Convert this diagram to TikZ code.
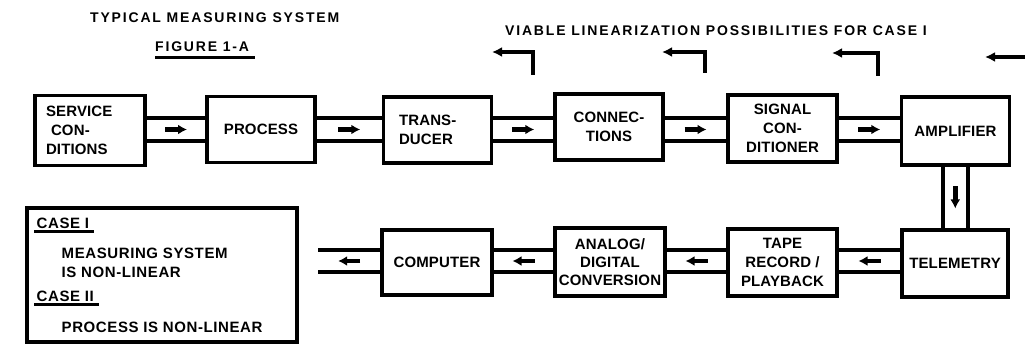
\documentclass[tikz,border=0pt]{standalone}
\usepackage{fontspec}
\setmainfont{Liberation Sans}
\newfontfamily\boxfont[LetterSpace=1]{Liberation Sans}
\newfontfamily\titfont[LetterSpace=13]{Liberation Sans}
\newfontfamily\legfont[LetterSpace=4]{Liberation Sans}
\usetikzlibrary{arrows.meta,calc}
\tikzset{
  blk/.style={draw, line width=3.3pt, inner sep=2pt, align=center,
    font=\boxfont\bfseries\fontsize{15}{19}\selectfont},
  chan/.style={line width=3.3pt},
  charrow/.style={line width=4.5pt, -{Latex[length=9pt,width=10pt]}},
  brk/.style={line width=3.4pt, -{Latex[length=10pt,width=10pt]}},
  ttl/.style={anchor=base west, inner sep=0pt, font=\titfont\bfseries\fontsize{14}{16}\selectfont},
  leg/.style={anchor=base west, inner sep=1.5pt, font=\legfont\bfseries\fontsize{15}{17}\selectfont},
  uline/.style={line width=2.8pt},
  legbox/.style={draw, line width=3.3pt, inner sep=0pt}
}
\newcommand\hchan[6]{%
  \draw[chan] (#1.east |- #3) -- (#2.west |- #3) (#1.east |- #4) -- (#2.west |- #4);
  \draw[charrow] ($(#1.east |- #5)!0.5!(#2.west |- #5) - (#6,0)$) -- ($(#1.east |- #5)!0.5!(#2.west |- #5) + (#6,0)$);}
\begin{document}
\begin{tikzpicture}[x=1pt,y=-1pt]
\useasboundingbox (0,0) rectangle (1025,344);
% row reference coordinates
\coordinate (ta) at (0,118);
\coordinate (tb) at (0,141);
\coordinate (tc) at (0,129.5);
\coordinate (ba) at (0,250);
\coordinate (bb) at (0,272);
\coordinate (bc) at (0,261);
\coordinate (vl) at (943,0);
\coordinate (vr) at (968,0);
% titles
\node[ttl] (title) at (90,22.5) {TYPICAL MEASURING SYSTEM};
\node[ttl] (fig) at (155,52) {FIGURE 1-A};
\draw[line width=3.8pt] ([yshift=-5.5pt]fig.base west) -- ([xshift=6pt,yshift=-5.5pt]fig.base east);
\node[ttl] (viable) at (505,35.5) {VIABLE LINEARIZATION POSSIBILITIES FOR CASE I};
% top row boxes
\node[blk, minimum width=110pt, minimum height=70pt, text width=88pt, align=left] (sc) at (90,130.5) {SERVICE\\\hspace*{5pt}CON-\\DITIONS};
\node[blk, minimum width=108pt, minimum height=66pt] (proc) at (261,129.5) {PROCESS};
\node[blk, minimum width=108pt, minimum height=66pt, text width=77pt, align=left] (trans) at (437.5,130) {TRANS-\\DUCER};
\node[blk, minimum width=108pt, minimum height=66pt] (conn) at (609,127) {CONNEC-\\TIONS};
\node[blk, minimum width=109pt, minimum height=67pt] (sig) at (782.5,128.5) {SIGNAL\\CON-\\DITIONER};
\node[blk, minimum width=108pt, minimum height=68pt] (amp) at (955.5,131) {AMPLIFIER};
% bottom row boxes
\node[blk, minimum width=106pt, minimum height=67pt] (tel) at (955,263.5) {TELEMETRY};
\node[blk, minimum width=109pt, minimum height=67pt] (tape) at (782.5,262.5) {TAPE\\RECORD /\\PLAYBACK};
\node[blk, minimum width=110pt, minimum height=68pt, font=\boxfont\bfseries\fontsize{15}{18}\selectfont] (adc) at (610,262) {ANALOG/\\DIGITAL\\CONVERSION};
\node[blk, minimum width=110pt, minimum height=65pt] (comp) at (437,262.5) {COMPUTER};
% channels top row
\hchan{sc}{proc}{ta}{tb}{tc}{11}
\hchan{proc}{trans}{ta}{tb}{tc}{11}
\hchan{trans}{conn}{ta}{tb}{tc}{11}
\hchan{conn}{sig}{ta}{tb}{tc}{11}
\hchan{sig}{amp}{ta}{tb}{tc}{11}
% vertical channel
\draw[chan] (amp.south -| vl) -- (tel.north -| vl) (amp.south -| vr) -- (tel.north -| vr);
\draw[charrow] ($(amp.south)!0.5!(tel.north) - (0,11)$) -- ($(amp.south)!0.5!(tel.north) + (0,11)$);
% channels bottom row (flow to the left)
\hchan{tape}{tel}{ba}{bb}{bc}{-11}
\hchan{adc}{tape}{ba}{bb}{bc}{-11}
\hchan{comp}{adc}{ba}{bb}{bc}{-11}
\coordinate (outa) at (318,250);
\coordinate (outb) at (318,272);
\coordinate (outc) at (318,261);
\draw[chan] (comp.west |- ba) -- (outa) (comp.west |- bb) -- (outb);
\draw[charrow] ($(comp.west |- bc)!0.5!(outc) + (11,0)$) -- ($(comp.west |- bc)!0.5!(outc) - (11,0)$);
% linearization brackets
\coordinate (b1s) at (533,75); \coordinate (b1c) at (533,52); \coordinate (b1t) at (492,52);
\coordinate (b2s) at (705,73); \coordinate (b2c) at (705,52); \coordinate (b2t) at (662,52);
\coordinate (b3s) at (878,76); \coordinate (b3c) at (878,53); \coordinate (b3t) at (832,53);
\coordinate (b4s) at (1026,57); \coordinate (b4t) at (985,57);
\draw[brk] (b1s) -- (b1c) -- (b1t);
\draw[brk] (b2s) -- (b2c) -- (b2t);
\draw[brk] (b3s) -- (b3c) -- (b3t);
\draw[brk] (b4s) -- (b4t);
% legend
\node[legbox, minimum width=270pt, minimum height=134pt] (legend) at (162,275) {};
\node[leg] (casei) at (35,229) {CASE I};
\draw[uline] ([xshift=-1pt,yshift=-1pt]casei.south west) -- ([xshift=3pt,yshift=-1pt]casei.south east);
\node[leg] (ms) at (60,258.5) {MEASURING SYSTEM};
\node[leg] (isn) at (60,278) {IS NON-LINEAR};
\node[leg] (caseii) at (35,302) {CASE II};
\draw[uline] ([xshift=-1pt,yshift=-1pt]caseii.south west) -- ([xshift=3pt,yshift=-1pt]caseii.south east);
\node[leg] (pis) at (60,333) {PROCESS IS NON-LINEAR};
\end{tikzpicture}
\end{document}
